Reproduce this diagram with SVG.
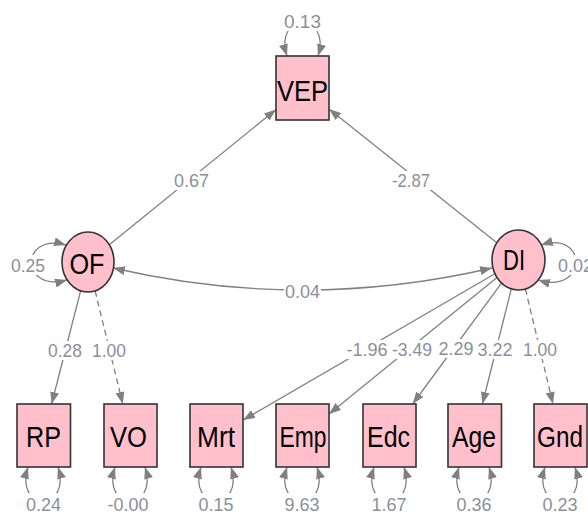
<svg xmlns="http://www.w3.org/2000/svg" width="588" height="514" viewBox="0 0 588 514">
<style>
.e{fill:none;stroke:#808080;stroke-width:1.3}
.d{stroke-dasharray:6 4}
.n{fill:#FFC0CB;stroke:#333;stroke-width:1.6}
.t{font-family:"Liberation Sans",Arial,sans-serif;font-size:30px;fill:#000;text-anchor:middle}
.l{font-family:"Liberation Sans",Arial,sans-serif;font-size:19px;fill:#8a8f9c;text-anchor:middle}
.bg{fill:#fff}
</style>
<defs>
<marker id="a" markerUnits="userSpaceOnUse" markerWidth="12" markerHeight="9" viewBox="0 0 12 9" refX="12" refY="4.5" orient="auto-start-reverse">
<path d="M0,0 L12,4.5 L0,9 z" fill="#808080"/>
</marker>
</defs>
<g id="connectors">
<line class="e" x1="109.3" y1="244.7" x2="276" y2="109.5" marker-end="url(#a)"/>
<line class="e" x1="496.8" y1="242.7" x2="329" y2="109.1" marker-end="url(#a)"/>
<path class="e" d="M113,268 Q303,312 492,268" marker-start="url(#a)" marker-end="url(#a)"/>
<line class="e" x1="80.6" y1="290.8" x2="51.6" y2="404" marker-end="url(#a)"/>
<line class="e d" x1="95.1" y1="290.9" x2="122.8" y2="404" marker-end="url(#a)"/>
<line class="e" x1="494.9" y1="273.7" x2="243" y2="420.1" marker-end="url(#a)"/>
<line class="e" x1="497" y1="277.5" x2="329" y2="414" marker-end="url(#a)"/>
<line class="e" x1="501.5" y1="283.1" x2="412.7" y2="404" marker-end="url(#a)"/>
<line class="e" x1="511.3" y1="288.9" x2="482.4" y2="404" marker-end="url(#a)"/>
<line class="e d" x1="525.4" y1="289" x2="553" y2="404" marker-end="url(#a)"/>
<!-- residual loops -->
<path class="e" d="M287,56 C273,12 332,12 318,56" marker-start="url(#a)" marker-end="url(#a)"/>
<path class="e" d="M66,245 C20,232 20,293 67,280" marker-start="url(#a)" marker-end="url(#a)"/>
<path class="e" d="M541,245 C588,230 588,295 538,280" marker-start="url(#a)" marker-end="url(#a)"/>
<path class="e" d="M28,467 C14,512 72,512 58,467" marker-start="url(#a)" marker-end="url(#a)"/>
<path class="e" d="M115,467 C101,512 159,512 145,467" marker-start="url(#a)" marker-end="url(#a)"/>
<path class="e" d="M201,467 C187,512 245,512 231,467" marker-start="url(#a)" marker-end="url(#a)"/>
<path class="e" d="M287,467 C273,512 331,512 317,467" marker-start="url(#a)" marker-end="url(#a)"/>
<path class="e" d="M374,467 C360,512 418,512 404,467" marker-start="url(#a)" marker-end="url(#a)"/>
<path class="e" d="M459,467 C445,512 503,512 489,467" marker-start="url(#a)" marker-end="url(#a)"/>
<path class="e" d="M545,467 C531,512 589,512 575,467" marker-start="url(#a)" marker-end="url(#a)"/>
<!-- label backgrounds -->
<rect class="bg" x="173" y="171" width="37" height="19"/>
<rect class="bg" x="390" y="171" width="42" height="19"/>
<rect class="bg" x="284" y="282" width="37" height="19"/>
<rect class="bg" x="47" y="341" width="36" height="19"/>
<rect class="bg" x="91" y="341" width="36" height="19"/>
<rect class="bg" x="345" y="340" width="44" height="19"/>
<rect class="bg" x="391" y="340" width="42" height="19"/>
<rect class="bg" x="437" y="339" width="37" height="19"/>
<rect class="bg" x="477" y="340" width="37" height="19"/>
<rect class="bg" x="522" y="340" width="36" height="19"/>
<rect class="bg" x="283" y="11" width="39" height="20"/>
<rect class="bg" x="10" y="255" width="37" height="20"/>
<rect class="bg" x="556" y="255" width="32" height="20"/>
<rect class="bg" x="22" y="493" width="43" height="21"/>
<rect class="bg" x="106" y="493" width="44" height="21"/>
<rect class="bg" x="195" y="493" width="43" height="21"/>
<rect class="bg" x="281" y="493" width="43" height="21"/>
<rect class="bg" x="368" y="493" width="43" height="21"/>
<rect class="bg" x="453" y="493" width="43" height="21"/>
<rect class="bg" x="539" y="493" width="43" height="21"/>
<!-- labels -->
<text class="l" x="191.5" y="187" textLength="35" lengthAdjust="spacingAndGlyphs">0.67</text>
<text class="l" x="411" y="187" textLength="38" lengthAdjust="spacingAndGlyphs">-2.87</text>
<text class="l" x="302.5" y="298" textLength="35" lengthAdjust="spacingAndGlyphs">0.04</text>
<text class="l" x="65" y="357" textLength="34" lengthAdjust="spacingAndGlyphs">0.28</text>
<text class="l" x="109" y="357" textLength="34" lengthAdjust="spacingAndGlyphs">1.00</text>
<text class="l" x="367" y="356" textLength="41" lengthAdjust="spacingAndGlyphs">-1.96</text>
<text class="l" x="412" y="356" textLength="40" lengthAdjust="spacingAndGlyphs">-3.49</text>
<text class="l" x="456" y="355" textLength="35" lengthAdjust="spacingAndGlyphs">2.29</text>
<text class="l" x="495" y="356" textLength="35" lengthAdjust="spacingAndGlyphs">3.22</text>
<text class="l" x="540" y="356" textLength="34" lengthAdjust="spacingAndGlyphs">1.00</text>
<text class="l" x="302.5" y="28" textLength="37" lengthAdjust="spacingAndGlyphs">0.13</text>
<text class="l" x="28" y="272" textLength="34" lengthAdjust="spacingAndGlyphs">0.25</text>
<text class="l" x="575.5" y="272" textLength="35" lengthAdjust="spacingAndGlyphs">0.02</text>
<text class="l" x="43.5" y="511" textLength="35" lengthAdjust="spacingAndGlyphs">0.24</text>
<text class="l" x="128" y="511" textLength="41" lengthAdjust="spacingAndGlyphs">-0.00</text>
<text class="l" x="216" y="511" textLength="35" lengthAdjust="spacingAndGlyphs">0.15</text>
<text class="l" x="302" y="511" textLength="35" lengthAdjust="spacingAndGlyphs">9.63</text>
<text class="l" x="389" y="511" textLength="35" lengthAdjust="spacingAndGlyphs">1.67</text>
<text class="l" x="474" y="511" textLength="35" lengthAdjust="spacingAndGlyphs">0.36</text>
<text class="l" x="560" y="511" textLength="35" lengthAdjust="spacingAndGlyphs">0.23</text>
</g>
<g id="VEP"><rect class="n" x="276" y="56" width="53" height="64"/><text class="t" x="302.5" y="101" textLength="51" lengthAdjust="spacingAndGlyphs">VEP</text></g>
<g id="OF"><ellipse class="n" cx="88" cy="262" rx="26" ry="30"/><text class="t" x="87" y="274" textLength="35" lengthAdjust="spacingAndGlyphs">OF</text></g>
<g id="DI"><ellipse class="n" cx="518.5" cy="260" rx="26.5" ry="30"/><text class="t" x="514" y="270" textLength="22" lengthAdjust="spacingAndGlyphs">DI</text></g>
<g id="RP"><rect class="n" x="17" y="404" width="53.5" height="63"/><text class="t" x="43.5" y="447" textLength="35" lengthAdjust="spacingAndGlyphs">RP</text></g>
<g id="VO"><rect class="n" x="104" y="404" width="53" height="63"/><text class="t" x="128.5" y="447" textLength="37" lengthAdjust="spacingAndGlyphs">VO</text></g>
<g id="Mrt"><rect class="n" x="190" y="404" width="53" height="63"/><text class="t" x="216" y="447" textLength="38" lengthAdjust="spacingAndGlyphs">Mrt</text></g>
<g id="Emp"><rect class="n" x="276" y="404" width="53" height="63"/><text class="t" x="303" y="447" textLength="47" lengthAdjust="spacingAndGlyphs">Emp</text></g>
<g id="Edc"><rect class="n" x="363" y="404" width="53" height="63"/><text class="t" x="388.5" y="447" textLength="43" lengthAdjust="spacingAndGlyphs">Edc</text></g>
<g id="Age"><rect class="n" x="448" y="404" width="53.5" height="63"/><text class="t" x="474" y="447" textLength="44" lengthAdjust="spacingAndGlyphs">Age</text></g>
<g id="Gnd"><rect class="n" x="534" y="404" width="53" height="63"/><text class="t" x="560" y="447" textLength="46" lengthAdjust="spacingAndGlyphs">Gnd</text></g>
</svg>
